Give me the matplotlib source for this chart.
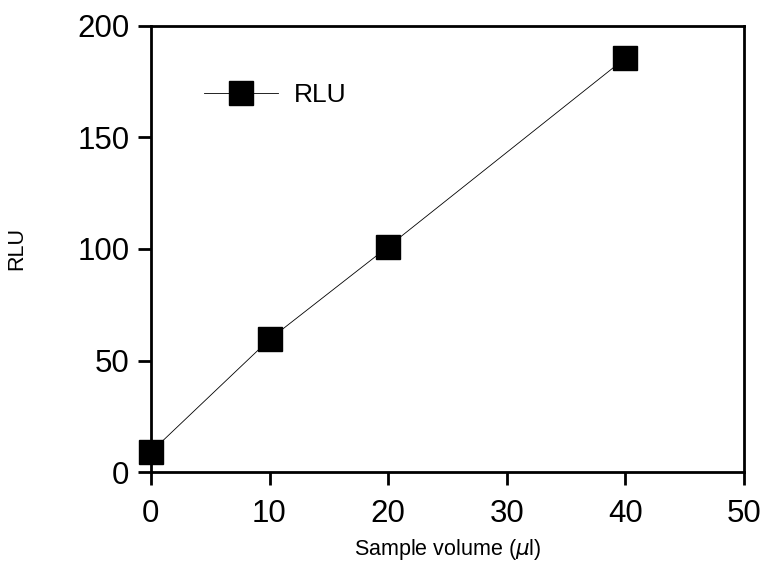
#RLU vs sample volume plot

import matplotlib.pyplot as plt

#data
volume = [0, 10, 20, 40]
rlu = [9, 59.5, 101, 185.5]
x_ticks = [0, 10, 20, 30, 40, 50]
y_ticks = [0, 50, 100, 150, 200]

plt.rcParams['font.family'] = ['Liberation Sans', 'DejaVu Sans']

fig = plt.figure(figsize=(7.7, 5.62), dpi=100)
ax = fig.add_axes([0.196, 0.160, 0.770, 0.794])

ax.plot(volume, rlu, color='black', lw=0.6, marker='s', markersize=17,
        markerfacecolor='black', markeredgecolor='black', label='RLU',
        clip_on=False, zorder=5)

ax.set_xlim(0, 50)
ax.set_ylim(0, 200)
ax.set_xticks(x_ticks)
ax.set_yticks(y_ticks)
ax.tick_params(direction='out', length=9.5, width=2, labelsize=22.5)
ax.tick_params(axis='x', pad=10)
ax.tick_params(axis='y', pad=6)
for s in ax.spines.values():
    s.set_linewidth(2)

ax.set_xlabel('Sample volume ($\\mu$l)', fontsize=15.5, labelpad=6)
ax.set_ylabel('RLU', fontsize=15.5, labelpad=36)

#legend
leg = ax.legend(loc='center left', bbox_to_anchor=(0.05, 0.845), frameon=False,
                handlelength=2.8, handletextpad=0.6, markerscale=1.0,
                prop={'size': 19})

fig.savefig('out.png', dpi=100)
